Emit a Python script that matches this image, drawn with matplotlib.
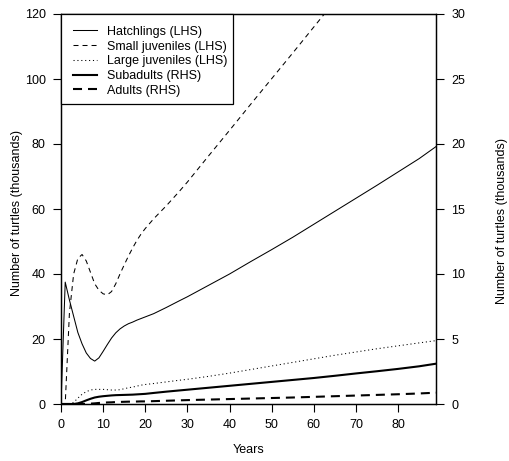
import matplotlib
matplotlib.use('Agg')
import matplotlib.pyplot as plt
from matplotlib.patches import Rectangle

plt.rcParams['font.family'] = ['Liberation Sans', 'DejaVu Sans']
plt.rcParams['lines.scale_dashes'] = False

# Data (thousands of turtles)
years = [0, 1, 2, 3, 4, 5, 6, 7, 8, 9, 10, 11, 12, 13, 14, 15, 16, 17, 18, 19, 20,
         22, 25, 28, 30, 35, 40, 45, 50, 55, 60, 65, 70, 75, 80, 85, 89]

hatchlings = [0, 37.5, 32, 27, 22, 18.5, 15.7, 14, 13.2, 14.2, 16.2, 18.3, 20.3, 21.9, 23.1, 24, 24.7, 25.2, 25.8, 26.3, 26.8,
              27.8, 29.7, 31.7, 33, 36.5, 40, 43.8, 47.5, 51.3, 55.3, 59.3, 63.3, 67.3, 71.4, 75.5, 79.2]
small_juv = [0, 0, 28, 40, 44.8, 46, 44, 40.5, 37, 35, 33.9, 33.6, 34.6, 37, 40, 42.8, 45.5, 48, 50.3, 52.3, 54,
             57, 61, 65.3, 68.3, 76.3, 84.2, 92.2, 100.1, 108, 116, 124, 132, 140, 148, 156, 162.5]
large_juv = [0, 0, 0, 0.5, 1.8, 3, 3.8, 4.3, 4.5, 4.5, 4.5, 4.4, 4.3, 4.3, 4.4, 4.7, 5, 5.2, 5.5, 5.8, 6,
             6.3, 6.8, 7.3, 7.6, 8.5, 9.5, 10.6, 11.7, 12.8, 13.9, 15, 16, 17, 17.9, 18.8, 19.5]
subadults = [0, 0, 0, 0, 0.05, 0.15, 0.28, 0.4, 0.5, 0.56, 0.6, 0.63, 0.66, 0.68, 0.69, 0.7, 0.71, 0.72, 0.74, 0.76, 0.78,
             0.85, 0.95, 1.04, 1.1, 1.25, 1.4, 1.55, 1.7, 1.85, 2.0, 2.17, 2.35, 2.52, 2.7, 2.9, 3.1]
adults = [0, 0, 0, 0, 0, 0, 0.01, 0.03, 0.05, 0.08, 0.1, 0.12, 0.13, 0.15, 0.16, 0.17, 0.18, 0.18, 0.19, 0.2, 0.2,
          0.22, 0.25, 0.28, 0.3, 0.34, 0.38, 0.42, 0.46, 0.5, 0.55, 0.6, 0.65, 0.7, 0.75, 0.81, 0.87]

labels = ['Hatchlings (LHS)', 'Small juveniles (LHS)', 'Large juveniles (LHS)',
          'Subadults (RHS)', 'Adults (RHS)']
x_ticks = [0, 10, 20, 30, 40, 50, 60, 70, 80]
left_ticks = [0, 20, 40, 60, 80, 100, 120]
right_ticks = [0, 5, 10, 15, 20, 25, 30]

fig = plt.figure(figsize=(5.1, 4.61), dpi=100)
ax = fig.add_axes([61 / 510, 1 - 404 / 461, 375 / 510, 390 / 461])
ax2 = ax.twinx()

thin = 0.75
thick = 1.5
l1, = ax.plot(years, hatchlings, color='black', lw=thin, label=labels[0])
l2, = ax.plot(years, small_juv, color='black', lw=thin, dashes=(3.6, 2.9), label=labels[1])
l3, = ax.plot(years, large_juv, color='black', lw=thin, dashes=(0.8, 2.0), label=labels[2])
l4, = ax2.plot(years, subadults, color='black', lw=thick, label=labels[3])
l5, = ax2.plot(years, adults, color='black', lw=thick, dashes=(6.5, 4.3), label=labels[4])

ax.set_xlim(0, 89)
ax.set_ylim(0, 120)
ax2.set_ylim(0, 30)
ax.set_xticks(x_ticks)
ax.set_yticks(left_ticks)
ax2.set_yticks(right_ticks)

for a in (ax, ax2):
    a.tick_params(direction='out', length=6, width=0.8, labelsize=9, pad=5, colors='black')
    for s in a.spines.values():
        s.set_linewidth(0.9)

ax.set_xlabel('Years', fontsize=9, labelpad=9)
ax.set_ylabel('Number of turtles (thousands)', fontsize=9)
ax2.set_ylabel('Number of turtles (thousands)', fontsize=9)
ax.yaxis.set_label_coords(-0.102, 0.49)
ax2.yaxis.set_label_coords(1.160, 0.47)

# legend box drawn separately (R-style: wider pad on the left than the right)
ax2.add_patch(Rectangle((0, 300 / 390), 172 / 375, 90 / 390, transform=ax2.transAxes,
                        facecolor='white', edgecolor='black', lw=0.9, zorder=4, clip_on=False))
leg = ax2.legend(handles=[l1, l2, l3, l4, l5], loc='upper left', borderaxespad=0,
                 fontsize=9, handlelength=1.9, handletextpad=0.85, labelspacing=0.22,
                 borderpad=0.95, frameon=False)
leg.set_zorder(5)

fig.savefig('out.png', dpi=100)
